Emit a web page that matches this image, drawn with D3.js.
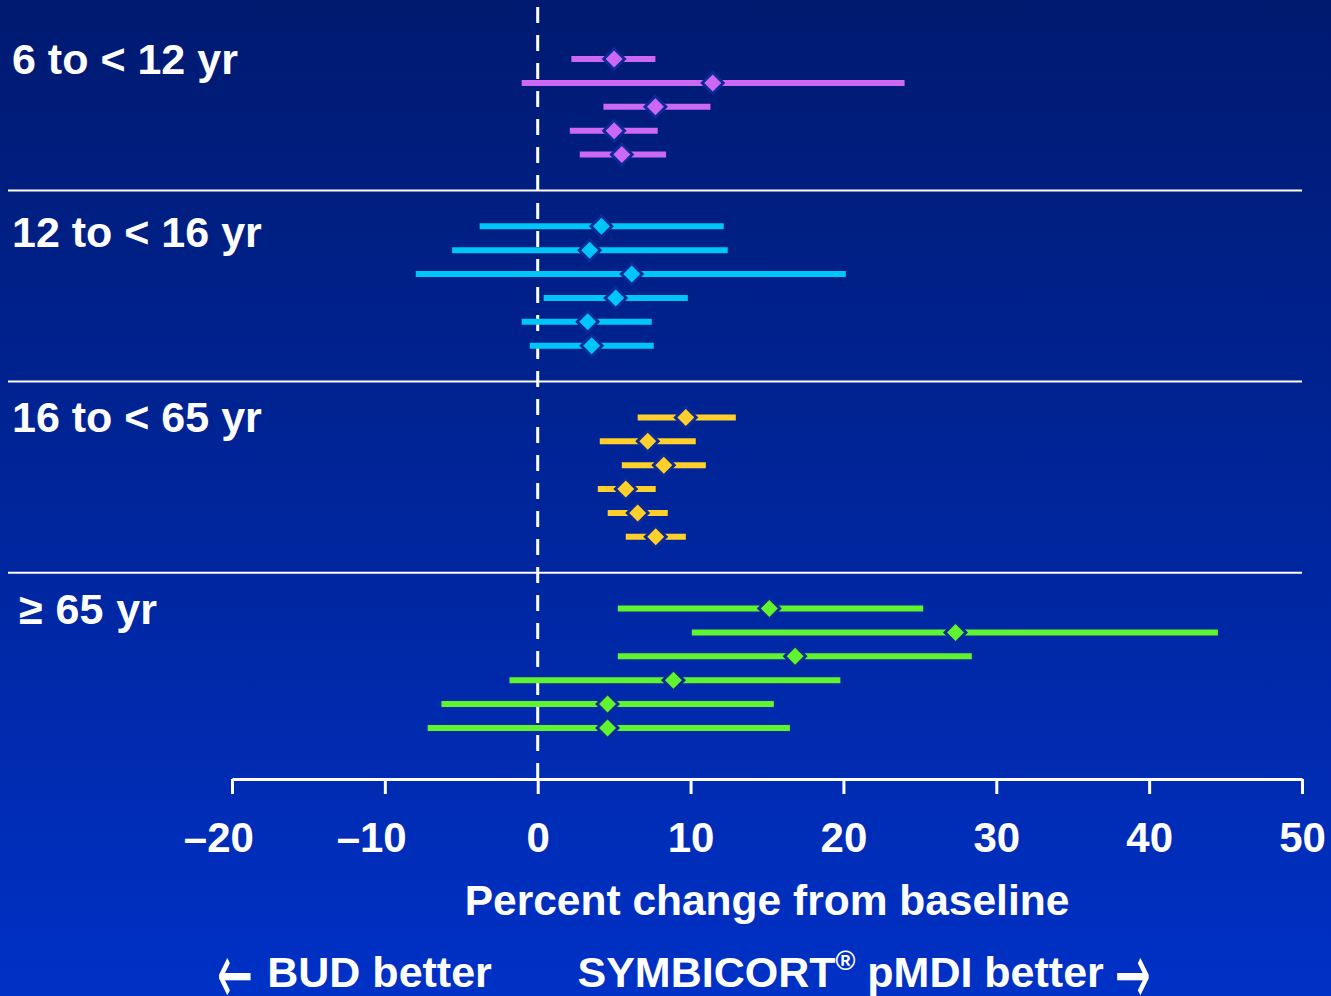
<!DOCTYPE html>
<html>
<head>
<meta charset="utf-8">
<script src="https://cdn.jsdelivr.net/npm/d3@7"></script>
<style>
  html, body { margin: 0; padding: 0; background: #0027a0; }
  svg { display: block; }
  text { font-family: "Liberation Sans", Arial, sans-serif; font-weight: bold; fill: #ffffff; }
</style>
</head>
<body>
<svg id="chart" width="1331" height="996"></svg>
<script>
// Age groups, top to bottom
const groups = ["6 to < 12 yr", "12 to < 16 yr", "16 to < 65 yr", "\u2265 65 yr"];

// Point estimates (percent change from baseline), one array per age group
const estimates = [
  [5.0, 11.45, 7.7, 5.0, 5.5],
  [4.17, 3.4, 6.15, 5.1, 3.27, 3.53],
  [9.69, 7.2, 8.25, 5.76, 6.54, 7.72],
  [15.15, 27.33, 16.84, 8.88, 4.57, 4.57]
];

// Lower confidence limits
const lower = [
  [2.2, -1.05, 4.3, 2.1, 2.75],
  [-3.8, -5.6, -7.98, 0.39, -1.05, -0.52],
  [6.54, 4.06, 5.5, 3.93, 4.58, 5.76],
  [5.24, 10.08, 5.24, -1.85, -6.3, -7.2]
];

// Upper confidence limits
const upper = [
  [7.7, 24.0, 11.3, 7.85, 8.4],
  [12.17, 12.43, 20.16, 9.82, 7.46, 7.59],
  [12.96, 10.34, 11.0, 7.72, 8.51, 9.69],
  [25.22, 44.5, 28.4, 19.8, 15.45, 16.5]
];

// Axis ticks
const tickValues = [-20, -10, 0, 10, 20, 30, 40, 50];
const axisTitle = "Percent change from baseline";

// Per-group colours
const groupColors = ["#cc68f4", "#00c6f8", "#ffcf2c", "#60f42e"];

const W = 1331, H = 996;
const svg = d3.select("#chart");

// Background: navy at the top fading into a brighter blue at the bottom
const defs = svg.append("defs");
const grad = defs.append("linearGradient")
  .attr("id", "bg").attr("x1", 0).attr("y1", 0).attr("x2", 0).attr("y2", 1);
grad.append("stop").attr("offset", "0%").attr("stop-color", "#001a70");
grad.append("stop").attr("offset", "50%").attr("stop-color", "#00259a");
grad.append("stop").attr("offset", "100%").attr("stop-color", "#0031c6");
svg.append("rect").attr("width", W).attr("height", H).attr("fill", "url(#bg)");

// Horizontal scale
const x = d3.scaleLinear().domain([-20, 50]).range([232, 1302]);

// Row slots: each group occupies consecutive slots, groups separated by a gap
const GAP = 2;
const rows = [];
const groupStart = [];
let slot = 0;
groups.forEach((g, gi) => {
  groupStart.push(slot);
  estimates[gi].forEach((est, ri) => {
    rows.push({ group: gi, slot: slot, est: est, lo: lower[gi][ri], hi: upper[gi][ri] });
    slot += 1;
  });
  slot += GAP;
});
const lastSlot = slot - GAP - 1;
const y = d3.scaleLinear().domain([0, lastSlot]).range([59, 728]);

const axisY = 779;

// Group separators
const seps = groupStart.slice(1).map(s => s - (GAP + 1) / 2);
svg.append("g").selectAll("line").data(seps).join("line")
  .attr("x1", 8).attr("x2", x(50))
  .attr("y1", d => y(d)).attr("y2", d => y(d))
  .attr("stroke", "#ffffff").attr("stroke-width", 2);

// Group labels
svg.append("g").selectAll("text").data(groups).join("text")
  .attr("x", d => d.startsWith("\u2265") ? 19 : 12)
  .attr("y", (d, i) => y(groupStart[i]) + (i === 1 ? 21 : 15))
  .attr("font-size", 43)
  .attr("word-spacing", d => d.startsWith("\u2265") ? 1 : 0)
  .text(d => d);

// No-difference reference line at zero
svg.append("line")
  .attr("x1", x(0)).attr("x2", x(0))
  .attr("y1", 7).attr("y2", axisY)
  .attr("stroke", "#ffffff").attr("stroke-width", 3)
  .attr("stroke-dasharray", "16 12");

// Confidence interval bars
const marks = svg.append("g");
marks.selectAll("line.ci").data(rows).join("line")
  .attr("class", "ci")
  .attr("x1", d => x(d.lo)).attr("x2", d => x(d.hi))
  .attr("y1", d => y(d.slot)).attr("y2", d => y(d.slot))
  .attr("stroke", d => groupColors[d.group])
  .attr("stroke-width", 6);

// Point estimates as outlined diamonds
const diamond = r => `M0,${-r}L${r},0L0,${r}L${-r},0Z`;
marks.selectAll("path.halo").data(rows).join("path")
  .attr("class", "halo")
  .attr("d", diamond(12.5))
  .attr("transform", d => `translate(${x(d.est)},${y(d.slot)})`)
  .attr("fill", "#0a2a98");
marks.selectAll("path.pt").data(rows).join("path")
  .attr("class", "pt")
  .attr("d", diamond(8.5))
  .attr("transform", d => `translate(${x(d.est)},${y(d.slot)})`)
  .attr("fill", d => groupColors[d.group]);

// Bottom axis
const axis = d3.axisBottom(x)
  .tickValues(tickValues)
  .tickSize(15)
  .tickSizeOuter(0)
  .tickPadding(28)
  .tickFormat(d => d < 0 ? "\u2013" + Math.abs(d) : String(d));
const gx = svg.append("g").attr("transform", `translate(0,${axisY})`).call(axis);
gx.select(".domain").attr("stroke", "#ffffff").attr("stroke-width", 3);
gx.selectAll(".tick line").attr("stroke", "#ffffff").attr("stroke-width", 3);
gx.selectAll(".tick text")
  .attr("fill", "#ffffff")
  .attr("font-size", 42)
  .each(function(d) {
    // keep the digits centred under the tick; the leading dash hangs to the left
    if (d < 0) {
      const dash = this.getSubStringLength(0, 1);
      d3.select(this).attr("dx", -dash / 2 - 2);
    }
  });

// Axis title
svg.append("text")
  .attr("x", (x(-20) + x(50)) / 2)
  .attr("y", 915)
  .attr("text-anchor", "middle")
  .attr("font-size", 42.5)
  .text(axisTitle);

// Direction hints under the axis
const hintY = 987;
const arrowText = (ch, ax) => svg.append("text")
  .attr("transform", `translate(${ax},${hintY + 17}) scale(0.74,1.5)`)
  .style("font-family", "\"DejaVu Sans\", sans-serif")
  .style("font-weight", "normal")
  .attr("font-size", 58)
  .text(ch);

arrowText("\u2190", 217);
svg.append("text")
  .attr("x", x(-3))
  .attr("y", hintY)
  .attr("text-anchor", "end")
  .attr("font-size", 43)
  .text("BUD better");

const right = svg.append("text")
  .attr("x", x(2.6))
  .attr("y", hintY)
  .attr("font-size", 43);
right.append("tspan").text("SYMBICORT");
right.append("tspan").attr("font-size", 27).attr("dy", -17).text("\u00ae");
right.append("tspan").attr("dy", 17).text(" pMDI better");
const rEnd = right.node().getComputedTextLength() + x(2.6);
arrowText("\u2192", rEnd + 11);
</script>
</body>
</html>
